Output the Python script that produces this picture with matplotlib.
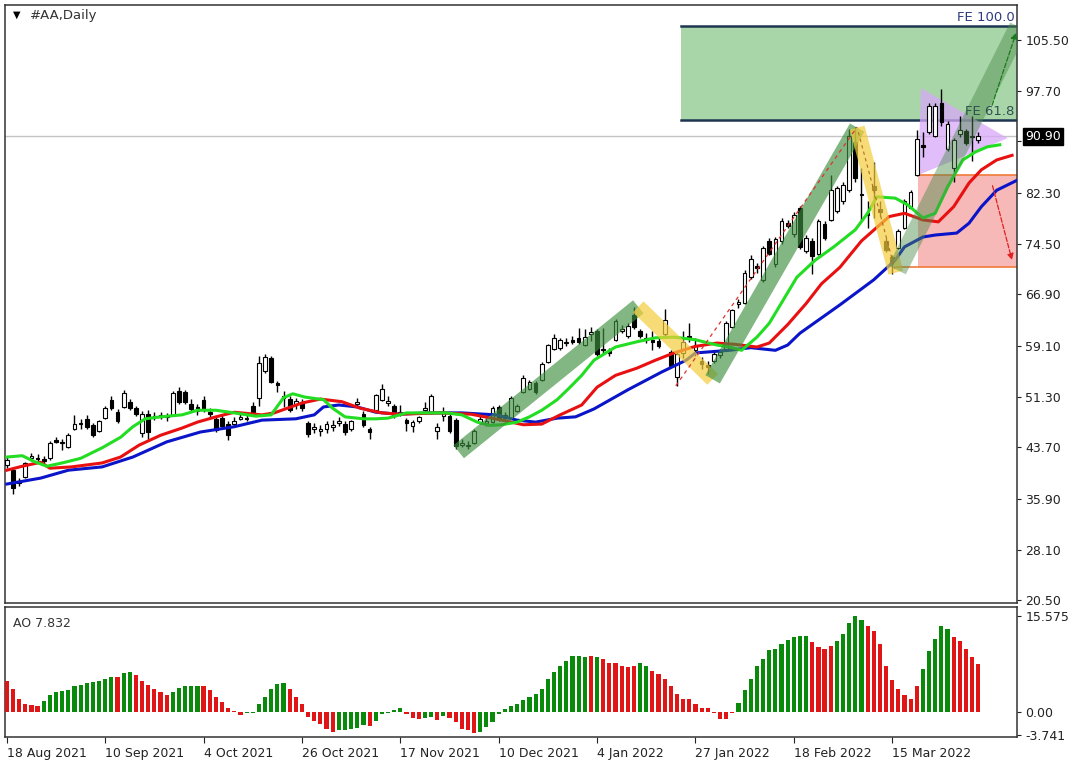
import matplotlib
matplotlib.use("Agg")
import matplotlib.pyplot as plt
import numpy as np
from matplotlib.patches import Polygon, Rectangle

plt.rcParams['font.family'] = ['DejaVu Sans']

# ---- daily bars of #AA, first bar = 18 Aug 2021 ----
opens = [41.0, 40.2, 38.3, 39.2, 42.0, 42.1, 41.9, 42.0, 44.8, 44.5,
         43.7, 46.5, 47.2, 48.0, 47.0, 46.2, 48.2, 50.8, 49.0, 49.8,
         50.5, 49.7, 45.8, 48.8, 48.3, 48.4, 48.4, 48.6, 52.2, 52.0,
         50.3, 49.8, 50.8, 49.0, 47.9, 48.2, 47.2, 47.2, 48.0, 48.0,
         50.0, 51.2, 55.2, 57.2, 53.4, 51.4, 51.0, 50.2, 50.4, 47.4,
         46.5, 46.2, 46.5, 46.8, 47.3, 47.2, 46.4, 50.3, 48.7, 46.4,
         49.3, 50.9, 50.4, 49.9, 49.1, 47.8, 46.9, 47.6, 49.4, 49.1,
         46.2, 48.4, 48.5, 47.8, 44.0, 43.9, 44.4, 47.5, 47.3, 47.5,
         49.8, 48.2, 48.2, 49.2, 52.1, 52.6, 53.5, 53.9, 56.6, 58.6,
         58.8, 59.5, 59.9, 60.2, 59.2, 60.8, 61.3, 58.6, 58.3, 60.0,
         61.4, 60.6, 63.8, 61.3, 60.3, 60.0, 59.8, 60.8, 58.2, 54.3,
         58.0, 60.6, 58.4, 56.8, 56.2, 56.8, 57.7, 58.6, 62.0, 65.4,
         65.6, 69.5, 71.2, 69.0, 75.0, 71.5, 75.0, 77.8, 76.0, 80.0,
         73.5, 75.0, 73.0, 77.5, 78.2, 79.5, 81.0, 82.7, 90.0, 82.2,
         79.3, 83.3, 79.8, 75.0, 72.5, 74.0, 77.0, 80.0, 85.0, 89.5,
         91.5, 91.0, 96.0, 89.0, 86.0, 91.2, 91.7, 90.8, 90.4]
highs = [42.3, 40.6, 39.0, 41.5, 42.8, 42.6, 42.4, 44.6, 45.2, 44.9,
         45.8, 48.6, 48.0, 48.6, 47.4, 47.8, 50.0, 51.5, 49.5, 52.3,
         51.0, 50.0, 49.2, 49.3, 49.0, 49.0, 48.9, 52.2, 52.8, 52.4,
         51.0, 50.3, 51.5, 49.6, 48.4, 48.6, 47.6, 48.3, 48.8, 48.6,
         50.5, 57.6, 57.8, 57.5, 53.8, 52.2, 51.5, 51.2, 51.0, 47.7,
         47.3, 47.0, 47.6, 47.8, 48.3, 47.6, 47.8, 51.2, 49.2, 46.8,
         51.8, 53.3, 51.5, 50.3, 50.1, 48.2, 47.8, 48.5, 50.6, 51.8,
         47.4, 49.8, 48.8, 48.2, 44.9, 44.6, 46.4, 48.4, 48.2, 49.9,
         50.1, 49.1, 51.5, 50.3, 54.6, 53.9, 53.8, 56.6, 59.4, 60.8,
         60.3, 60.3, 60.6, 61.8, 61.6, 62.0, 61.6, 61.8, 58.7, 63.2,
         62.3, 62.5, 65.0, 61.6, 61.0, 61.3, 60.2, 64.6, 58.5, 58.2,
         61.4, 62.5, 60.2, 57.4, 56.8, 58.3, 58.6, 62.8, 64.7, 66.2,
         70.6, 72.8, 71.6, 74.3, 75.5, 75.6, 78.5, 78.2, 79.4, 80.3,
         75.9, 75.4, 78.3, 78.0, 85.0, 83.3, 84.0, 92.0, 92.3, 86.0,
         81.0, 87.0, 81.0, 75.4, 72.8, 76.8, 81.3, 82.8, 91.8, 91.5,
         96.0, 96.0, 98.1, 93.2, 90.6, 94.0, 92.0, 94.0, 91.5]
lows = [40.5, 36.6, 37.8, 39.0, 41.6, 41.5, 41.2, 41.8, 44.3, 43.3,
        43.5, 46.3, 46.4, 46.5, 45.3, 46.0, 48.0, 49.4, 47.3, 49.6,
        49.3, 48.4, 45.3, 45.0, 47.8, 47.9, 47.6, 48.4, 50.3, 50.3,
        49.1, 48.6, 49.0, 48.3, 46.0, 46.6, 44.8, 46.8, 47.8, 47.7,
        48.8, 50.0, 55.0, 53.4, 52.0, 49.8, 49.0, 49.5, 49.2, 45.3,
        45.8, 45.4, 45.9, 46.2, 46.9, 45.6, 46.2, 49.8, 46.8, 45.0,
        49.0, 50.7, 50.0, 48.2, 48.4, 46.2, 46.0, 47.3, 49.2, 48.9,
        45.0, 47.6, 45.8, 43.4, 43.7, 43.4, 44.2, 47.2, 46.9, 47.3,
        47.6, 47.8, 48.0, 49.0, 51.9, 52.3, 51.7, 53.7, 56.4, 58.4,
        58.5, 59.0, 59.4, 59.3, 59.0, 59.8, 57.5, 58.0, 57.6, 59.8,
        61.0, 60.3, 61.7, 60.3, 59.5, 58.4, 58.7, 60.4, 55.8, 53.0,
        57.2, 59.6, 57.6, 55.6, 54.8, 56.5, 57.3, 58.3, 61.8, 64.8,
        65.4, 69.2, 70.2, 68.8, 72.8, 71.0, 74.6, 77.0, 75.6, 73.8,
        73.2, 70.0, 72.8, 75.2, 78.0, 79.3, 80.6, 82.5, 84.0, 78.2,
        77.0, 78.5, 78.8, 73.3, 70.0, 73.8, 76.8, 79.8, 84.8, 87.8,
        91.2, 90.8, 92.5, 88.6, 84.0, 90.8, 89.6, 87.2, 89.8]
closes = [41.8, 37.5, 38.6, 41.3, 42.3, 41.9, 41.6, 44.3, 44.5, 44.4,
          45.5, 47.2, 47.4, 46.7, 45.6, 47.6, 49.6, 49.7, 47.6, 51.9,
          49.7, 48.7, 48.8, 46.0, 48.5, 48.6, 48.3, 51.9, 50.6, 50.6,
          49.5, 49.2, 49.3, 48.8, 46.3, 46.9, 45.6, 47.6, 48.3, 48.2,
          49.1, 56.5, 57.4, 53.6, 53.1, 51.1, 49.4, 50.7, 49.6, 45.7,
          46.8, 46.4, 47.2, 47.1, 47.6, 46.0, 47.6, 50.5, 47.1, 46.0,
          51.6, 52.6, 50.7, 48.4, 48.9, 47.4, 47.5, 48.3, 49.6, 51.4,
          46.8, 48.9, 46.1, 43.8, 44.4, 44.1, 46.1, 47.9, 47.6, 49.6,
          47.9, 48.6, 51.1, 49.9, 54.2, 53.6, 52.0, 56.3, 59.2, 60.2,
          60.0, 59.6, 59.7, 59.6, 60.4, 61.2, 57.8, 58.4, 58.0, 62.9,
          61.6, 62.1, 62.0, 60.6, 60.0, 59.6, 59.0, 63.0, 56.0, 57.8,
          59.6, 60.3, 59.2, 56.3, 55.9, 57.9, 58.2, 62.5, 64.5, 65.7,
          70.2, 72.3, 70.9, 74.0, 73.0, 75.3, 78.0, 77.3, 79.0, 74.1,
          75.5, 72.7, 78.0, 75.5, 82.7, 83.0, 83.5, 91.0, 84.5, 82.0,
          79.0, 82.8, 79.4, 73.6, 71.8, 76.5, 81.0, 82.5, 90.5, 89.3,
          95.5, 95.5, 93.0, 92.8, 90.3, 91.8, 89.9, 91.0, 90.9]

# Alligator lines, vertices (bar position, price)
lips_x = [0, 2.5, 4.5, 6.5, 9, 12, 15.5, 18.5, 20.5, 22.5, 25, 28.5, 31, 34, 37, 40.5,
          43, 45, 46.5, 48.5, 51.5, 53, 55, 58, 60, 62, 65, 71.5, 74, 76.5, 78.5, 80.5,
          83, 85, 87, 89.5, 91.5, 93.5, 95.5, 99, 102.5, 105.5, 108.5, 112, 115.5, 117.5,
          119.5, 122, 124, 126, 128.5, 131.5, 134.5, 138, 140, 141.5, 144.5, 146.5, 149,
          151, 153, 155.5, 157.5, 159.5, 161.5]
lips_y = [42.2, 42.4, 41.5, 40.8, 41.3, 42.0, 43.6, 45.2, 46.8, 48.0, 48.3, 48.6, 49.3,
          49.3, 48.9, 48.4, 48.6, 51.2, 51.8, 51.3, 50.9, 49.6, 48.3, 48.0, 48.0, 48.1,
          48.9, 48.9, 48.6, 47.5, 47.0, 47.1, 47.5, 48.3, 49.3, 50.9, 52.7, 54.6, 56.9,
          58.9, 59.7, 60.3, 60.4, 60.0, 59.2, 58.9, 58.4, 60.4, 62.5, 65.6, 69.5, 72.1,
          74.1, 76.7, 79.2, 81.7, 81.5, 80.5, 78.5, 79.2, 83.2, 87.3, 88.5, 89.3, 89.6]
teeth_x = [0, 2.5, 5.5, 7, 10.5, 15.5, 18.5, 21.5, 25, 28.5, 31, 34, 37, 41.5, 43.5, 48,
           51, 54.5, 57.5, 61, 64, 70.5, 75.5, 80.5, 84, 87, 90, 93.5, 96, 99, 102.5,
           105.5, 108.5, 112, 115.5, 118.5, 122, 124, 127, 130, 132.5, 135.5, 139, 143.5,
           146, 149, 151.5, 154, 156.5, 158.5, 161, 163.5]
teeth_y = [40.2, 40.8, 41.4, 40.5, 40.7, 41.3, 42.2, 44.0, 45.5, 46.6, 47.5, 48.3, 49.0,
           48.6, 48.9, 50.4, 51.0, 50.6, 49.6, 48.9, 48.7, 48.9, 48.7, 47.8, 47.1, 47.2,
           48.6, 50.1, 52.8, 54.6, 55.7, 56.9, 58.0, 59.0, 59.5, 59.3, 58.9, 59.5, 62.3,
           65.5, 68.5, 71.0, 75.0, 78.7, 79.2, 78.2, 77.9, 80.2, 83.8, 85.8, 87.3, 88.0]
jaw_x = [0, 5.5, 10, 15.5, 20.5, 26, 31.5, 37, 41.5, 47, 50, 51.5, 54, 57, 60, 63.5,
         68.5, 74, 79.5, 83, 86, 89.5, 92.5, 95.5, 101, 106.5, 110.5, 112, 117.5, 121,
         125, 127, 129, 135.5, 141, 144.5, 146, 149, 151, 154.5, 156.5, 158.5, 161, 164.5]
jaw_y = [38.1, 39.0, 40.2, 40.7, 42.2, 44.5, 46.0, 46.8, 47.8, 48.0, 48.6, 49.8, 50.1,
         49.8, 49.0, 48.7, 48.9, 48.9, 48.6, 47.8, 47.5, 48.1, 48.3, 49.5, 52.4, 55.1,
         56.9, 58.0, 58.4, 58.8, 58.4, 59.2, 61.0, 65.3, 69.1, 72.1, 74.1, 75.6, 75.9,
         76.2, 77.7, 80.2, 82.7, 84.3]

# Awesome Oscillator, one value per bar, G = rising bar, R = falling bar
ao_values = [5.1, 3.76, 2.04, 1.24, 1.2, 0.91, 1.77, 2.69, 3.23, 3.45,
             3.55, 4.19, 4.46, 4.68, 4.84, 5.1, 5.32, 5.75, 5.62, 6.29,
             6.5, 5.97, 5.0, 4.46, 3.76, 3.28, 2.69, 3.23, 3.92, 4.19,
             4.22, 4.25, 4.19, 3.49, 2.42, 1.61, 0.7, 0.1, -0.54, -0.15,
             -0.1, 1.24, 2.42, 3.76, 4.57, 4.78, 3.76, 2.42, 1.24, -0.81,
             -1.45, -1.99, -2.69, -3.23, -2.96, -2.85, -2.69, -2.53, -2.15, -2.31,
             -1.45, -0.4, -0.15, 0.25, 0.7, -0.25, -1.0, -1.1, -1.05, -0.81,
             -1.24, -0.7, -0.91, -1.61, -2.69, -2.85, -3.45, -3.23, -2.42, -1.61,
             -0.4, 0.54, 0.91, 1.24, 1.99, 2.42, 2.96, 3.76, 5.38, 6.45,
             7.42, 8.33, 9.1, 9.15, 8.87, 9.14, 8.87, 8.6, 7.96, 7.9,
             7.42, 7.38, 7.42, 7.96, 7.42, 6.72, 6.18, 5.38, 4.19, 2.96,
             2.15, 2.1, 1.24, 0.7, 0.65, -0.15, -1.18, -1.2, -0.15, 1.45,
             3.49, 5.38, 7.42, 8.6, 10.1, 10.3, 11.1, 11.7, 12.2, 12.4,
             12.35, 11.4, 10.5, 10.2, 10.75, 11.45, 12.6, 14.4, 15.575, 14.9,
             14.0, 13.2, 11.1, 7.42, 5.2, 3.76, 2.69, 2.15, 4.14, 7.0,
             9.95, 11.9, 14.0, 13.4, 12.2, 11.45, 10.2, 8.98, 7.832]
ao_dir = ("RRRRRRGGGGGGGGGGGGRGGRRRRRRGGGGGRRRRRRRGGGGGGGRRRRRRRRGGGGGRGGGGGRRRGGRGRRRRRGGGG"
          "GGGGGGGGGGGGGGRGRRRRRRGGRRRRRRRRRRRRRRGGGGGGGGGGGGRRRRGGGGGRRRRRRRRRGGGGGRRRRRR")

date_labels = ['18 Aug 2021', '10 Sep 2021', '4 Oct 2021', '26 Oct 2021', '17 Nov 2021',
               '10 Dec 2021', '4 Jan 2022', '27 Jan 2022', '18 Feb 2022', '15 Mar 2022']
date_bars = [0, 16, 32, 48, 64, 80, 96, 112, 128, 144]
price_ticks = [20.50, 28.10, 35.90, 43.70, 51.30, 59.10, 66.90, 74.50, 82.30, 90.10, 97.70, 105.50]
ao_ticks = [15.575, 0.0, -3.741]

last_price = 90.90
fe_100, fe_618 = 107.6, 93.3
red_zone = (71.0, 85.0)

fig = plt.figure(figsize=(10.8, 7.68), dpi=100)
ax = fig.add_axes([5 / 1080, 165 / 768, 1012 / 1080, 598 / 768])
ao = fig.add_axes([5 / 1080, 31 / 768, 1012 / 1080, 130 / 768], sharex=ax)

# zones
ax.add_patch(Rectangle((109.6, fe_618), 60, fe_100 - fe_618, fc='#a9d6a9', ec='none', zorder=1))
ax.plot([109.6, 170], [fe_100, fe_100], color='#1d3550', lw=1.8, zorder=2)
ax.plot([109.6, 170], [fe_618, fe_618], color='#1d3550', lw=1.8, zorder=2)
ax.add_patch(Rectangle((148.2, red_zone[0]), 20, red_zone[1] - red_zone[0], fc='#f7b8b8', ec='none', zorder=1))
ax.plot([148.2, 170], [red_zone[1], red_zone[1]], color='#f07a3a', lw=1.2, zorder=2)
ax.plot([144.6, 170], [red_zone[0], red_zone[0]], color='#f07a3a', lw=1.2, zorder=2)
ax.add_patch(Polygon([(148.7, 98.2), (148.2, 85.0), (162.8, 90.6)], closed=True,
                     fc='#d7a9f7', ec='none', alpha=0.75, zorder=2))
ax.axhline(last_price, color='#c4c4c4', lw=1, zorder=0.5)

# candles
x = np.arange(len(closes))
o = np.array(opens)
c = np.array(closes)
bottoms = np.minimum(o, c)
heights = np.maximum(np.abs(c - o), 0.15)
body_col = ['white' if cc >= oo else 'black' for oo, cc in zip(o, c)]
ax.vlines(x, lows, highs, color='black', lw=1, zorder=3)
ax.bar(x, heights, bottom=bottoms, width=0.6, color=body_col, edgecolor='black', lw=0.8, zorder=4)

# alligator
ax.plot(jaw_x, jaw_y, color='#0a14c8', lw=2.2, zorder=5)
ax.plot(teeth_x, teeth_y, color='#e81010', lw=2.2, zorder=5)
ax.plot(lips_x, lips_y, color='#22dd22', lw=2.2, zorder=5)

# wave bands
band_kw = dict(solid_capstyle='butt', zorder=6)
ax.plot([73.5, 102.7], [43.0, 65.0], color='#3f8f3f', lw=12, alpha=0.65, **band_kw)
ax.plot([102.7, 114.8], [65.0, 54.0], color='#f5cd3c', lw=11, alpha=0.7, **band_kw)
ax.plot([114.8, 138.3], [54.0, 92.2], color='#3f8f3f', lw=12, alpha=0.65, **band_kw)
ax.plot([138.3, 144.6], [92.2, 70.2], color='#f5cd3c', lw=11, alpha=0.7, **band_kw)
ax.plot([144.8, 164.6], [70.6, 107.5], color='#4a8a4a', lw=14, alpha=0.45, **band_kw)

ax.plot([108.8, 138.3], [53.0, 92.3], color='#e03030', lw=0.9, ls=(0, (3, 3)), zorder=7)
ax.plot([138.5, 144.4], [91.5, 70.8], color='#b07020', lw=0.8, ls=(0, (3, 3)), zorder=7)
ax.annotate('', xy=(164.3, 107.0), xytext=(160.1, 95.2),
            arrowprops=dict(arrowstyle='-|>', color='#1a7a1a', lw=0.9, ls='--',
                            mutation_scale=9), zorder=7)
ax.annotate('', xy=(163.6, 71.7), xytext=(160.2, 83.8),
            arrowprops=dict(arrowstyle='-|>', color='#e02020', lw=0.9, ls='--',
                            mutation_scale=9), zorder=7)

ax.text(163.9, fe_100 + 0.4, 'FE 100.0', ha='right', va='bottom', fontsize=9.5, color='#2e3a80', zorder=8)
ax.text(163.9, fe_618 + 0.4, 'FE 61.8', ha='right', va='bottom', fontsize=9.5, color='#2f5050', zorder=8)

ax.text(0.0075, 0.983, '\u25bc', transform=ax.transAxes, fontsize=7, va='center', color='black')
ax.text(0.0245, 0.983, '#AA,Daily', transform=ax.transAxes, fontsize=9.5, va='center', color='#333333')

ax.set_xlim(-0.3, 164.3)
ax.set_ylim(20.04, 110.82)
ax.yaxis.tick_right()
ax.set_yticks(price_ticks)
ax.set_yticklabels([f'{v:.2f}' for v in price_ticks])
ax.tick_params(axis='y', direction='out', length=3, labelsize=9, pad=3, colors='#222222')
ax.tick_params(axis='x', bottom=False, labelbottom=False)
ax.annotate(f'{last_price:.2f}', xy=(1.0, last_price), xycoords=('axes fraction', 'data'),
            xytext=(6, 0), textcoords='offset points', ha='left', va='center',
            fontsize=9, color='white',
            bbox=dict(boxstyle='square,pad=0.15', fc='black', ec='black'))

# AO histogram
ao_col = ['#0a8a0a' if d == 'G' else '#e01515' for d in ao_dir]
ao.bar(np.arange(len(ao_values)), ao_values, width=0.68, color=ao_col, zorder=3)
ao.set_ylim(-4.06, 17.04)
ao.yaxis.tick_right()
ao.set_yticks(ao_ticks)
ao.set_yticklabels(['15.575', '0.00', '-3.741'])
ao.tick_params(axis='y', direction='out', length=3, labelsize=9, pad=3, colors='#222222')
ao.set_xticks(date_bars)
ao.set_xticklabels(date_labels, ha='left')
ao.tick_params(axis='x', direction='out', length=4, labelsize=9, pad=3, colors='#222222')
ao.text(0.008, 0.875, 'AO 7.832', transform=ao.transAxes, fontsize=9, va='center', color='#333333')

for a in (ax, ao):
    for s in a.spines.values():
        s.set_color('#333333')
        s.set_linewidth(1.1)

fig.savefig('out.png', dpi=100, facecolor='white')
